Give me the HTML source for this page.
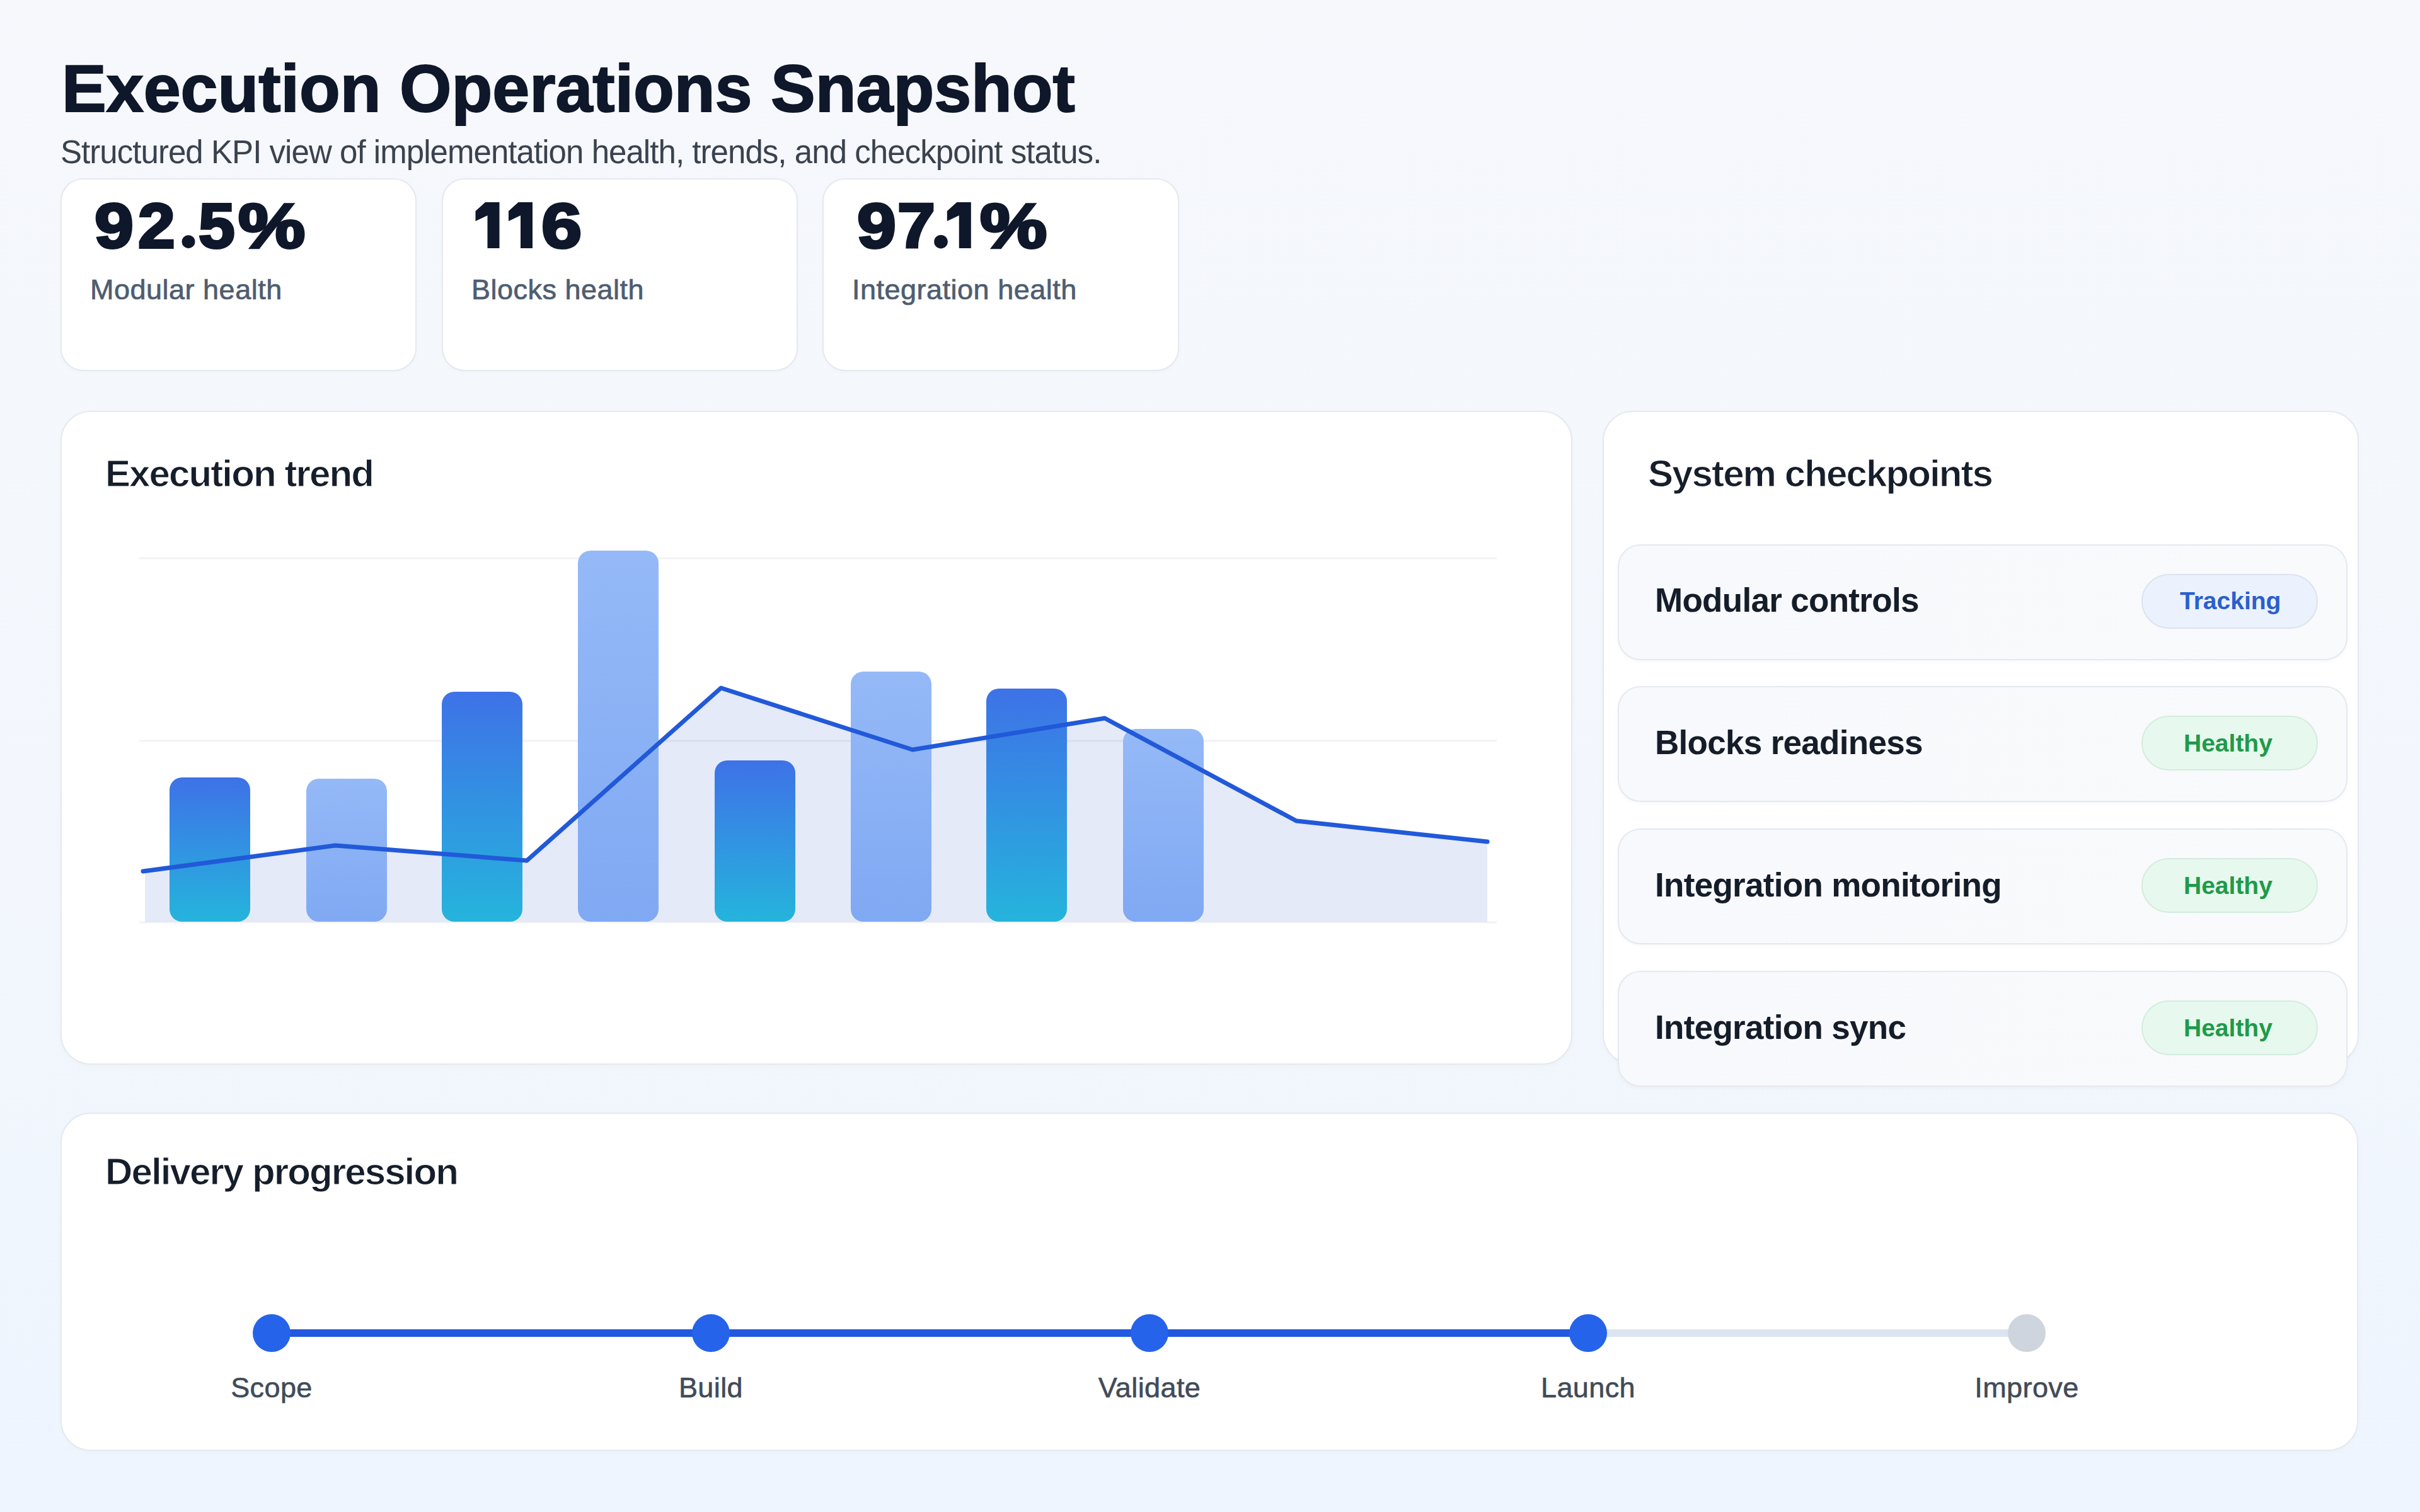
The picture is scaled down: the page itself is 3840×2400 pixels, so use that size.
<!DOCTYPE html>
<html>
<head>
<meta charset="utf-8">
<style>
html,body{margin:0;padding:0;}
body{width:3840px;height:2400px;position:relative;overflow:hidden;background:linear-gradient(180deg,#f6f8fc 0%,#f3f7fd 55%,#eef5fe 100%);font-family:"Liberation Sans",sans-serif;}
.abs{position:absolute;}
.t{position:absolute;white-space:nowrap;line-height:1;}
.card{position:absolute;background:#fff;border:2px solid #e5e9ef;box-sizing:border-box;border-radius:36px;box-shadow:0 2px 8px rgba(15,23,42,0.025);}
.panel{position:absolute;background:#fff;border:2px solid #e5e9ef;box-sizing:border-box;border-radius:48px;box-shadow:0 2px 10px rgba(15,23,42,0.025);}
.item{position:absolute;left:2567px;width:1158px;height:184px;background:linear-gradient(90deg,#f7f9fc,#f9fafc);border:2px solid #e5e9ef;box-sizing:border-box;border-radius:36px;box-shadow:0 2px 6px rgba(15,23,42,0.035);}
.badge{position:absolute;left:3398px;width:280px;height:87px;box-sizing:border-box;border-radius:44px;}
.g{position:absolute;top:308px;line-height:1;font-size:100px;font-weight:700;color:#0f172a;-webkit-text-stroke:4px #0f172a;transform-origin:0 0;white-space:nowrap;}
.kpi-lbl{font-size:45px;color:#4f5d70;-webkit-text-stroke:0.7px #4f5d70;letter-spacing:0.5px;}
.ptitle{font-weight:700;font-size:60px;color:#161e2b;letter-spacing:-1.9px;-webkit-text-stroke:1px #fff;}
.itxt{font-weight:700;font-size:53px;color:#151d2a;letter-spacing:-0.7px;}
.btxt{font-weight:700;font-size:39px;}
.step{font-size:45px;color:#414b58;-webkit-text-stroke:0.6px #414b58;letter-spacing:0.4px;}
.dot{position:absolute;width:60px;height:60px;border-radius:50%;background:#2563eb;top:2086px;}
</style>
</head>
<body>
<div class="t" style="left:98px;top:87px;font-size:106px;font-weight:700;color:#0f172a;-webkit-text-stroke:2px #0f172a;">Execution Operations Snapshot</div>
<div class="t" style="left:96px;top:216px;font-size:51px;color:#3a424e;letter-spacing:-0.95px;">Structured KPI view of implementation health, trends, and checkpoint status.</div>

<div class="card" style="left:96px;top:283px;width:565px;height:306px;"></div>
<div class="card" style="left:701px;top:283px;width:565px;height:306px;"></div>
<div class="card" style="left:1305px;top:283px;width:566px;height:306px;"></div>
<span class="g" style="left:150.3px;transform:scaleX(1.113);">9</span>
<span class="g" style="left:218.9px;transform:scaleX(1.057);">2</span>
<span class="g" style="left:314.8px;transform:scaleX(1.037);">5</span>
<span class="g" style="left:377.8px;transform:scaleX(1.195);">%</span>
<span class="g" style="left:859.2px;transform:scaleX(1.154);">6</span>
<span class="g" style="left:1359.5px;transform:scaleX(1.113);">9</span>
<span class="g" style="left:1423.8px;transform:scaleX(1.078);">7</span>
<span class="g" style="left:1554.8px;transform:scaleX(1.195);">%</span>
<svg class="abs" style="left:0;top:0;" width="2000" height="500" viewBox="0 0 2000 500">
  <polygon points="770.0,321.0 792.5,321.0 792.5,394.0 773.5,394.0 773.5,342.0 754.5,351.0 754.5,335.0" fill="#0f172a"/>
  <polygon points="822.5,321.0 845.0,321.0 845.0,394.0 826.0,394.0 826.0,342.0 807.0,351.0 807.0,335.0" fill="#0f172a"/>
  <polygon points="1518.3,321.0 1540.8,321.0 1540.8,394.0 1521.8,394.0 1521.8,342.0 1502.8,351.0 1502.8,335.0" fill="#0f172a"/>
  <circle cx="299" cy="383.7" r="10.5" fill="#0f172a"/>
  <circle cx="1493" cy="383.7" r="10.8" fill="#0f172a"/>
</svg>
<div class="t kpi-lbl" style="left:143px;top:437px;">Modular health</div>
<div class="t kpi-lbl" style="left:748px;top:437px;">Blocks health</div>
<div class="t kpi-lbl" style="left:1352px;top:437px;">Integration health</div>

<div class="panel" style="left:96px;top:652px;width:2399px;height:1038px;"></div>
<div class="t ptitle" style="left:167px;top:722px;">Execution trend</div>
<svg class="abs" style="left:0;top:0;" width="3840" height="2400" viewBox="0 0 3840 2400">
  <defs>
    <linearGradient id="gd" x1="0" y1="0" x2="0" y2="1">
      <stop offset="0" stop-color="#3e72e7"/>
      <stop offset="1" stop-color="#25b4dc"/>
    </linearGradient>
    <linearGradient id="gl" x1="0" y1="0" x2="0" y2="1">
      <stop offset="0" stop-color="#95b9f7"/>
      <stop offset="1" stop-color="#80a9f3"/>
    </linearGradient>
  </defs>
  <polygon points="230,1383 532,1342 836,1366 1144,1092 1448,1190 1753,1140 2057,1303 2360,1336 2360,1463 230,1463" fill="#e5eaf9"/>
  <line x1="221" y1="886" x2="2375" y2="886" stroke="rgba(100,116,139,0.09)" stroke-width="3"/>
  <line x1="221" y1="1176" x2="2375" y2="1176" stroke="rgba(100,116,139,0.09)" stroke-width="3"/>
  <line x1="221" y1="1464" x2="2375" y2="1464" stroke="rgba(100,116,139,0.09)" stroke-width="3"/>
  <rect x="269" y="1234" width="128" height="229" rx="20" fill="url(#gd)"/>
  <rect x="486" y="1236" width="128" height="227" rx="20" fill="url(#gl)"/>
  <rect x="701" y="1098" width="128" height="365" rx="20" fill="url(#gd)"/>
  <rect x="917" y="874" width="128" height="589" rx="20" fill="url(#gl)"/>
  <rect x="1134" y="1207" width="128" height="256" rx="20" fill="url(#gd)"/>
  <rect x="1350" y="1066" width="128" height="397" rx="20" fill="url(#gl)"/>
  <rect x="1565" y="1093" width="128" height="370" rx="20" fill="url(#gd)"/>
  <rect x="1782" y="1157" width="128" height="306" rx="20" fill="url(#gl)"/>
  <polyline points="227,1383 532,1342 836,1366 1144,1092 1448,1190 1753,1140 2057,1303 2360,1336" fill="none" stroke="#2159d9" stroke-width="7" stroke-linejoin="round" stroke-linecap="round"/>
</svg>

<div class="panel" style="left:2543px;top:652px;width:1200px;height:1038px;"></div>
<div class="t ptitle" style="left:2615px;top:722px;">System checkpoints</div>

<div class="item" style="top:864px;"></div>
<div class="badge" style="top:911px;background:#ebf2fd;border:2px solid #dbe3ef;"></div>
<div class="t itxt" style="left:2626px;top:926px;">Modular controls</div>
<div class="t btxt" style="left:3459px;top:934px;color:#2a5fcf;">Tracking</div>

<div class="item" style="top:1089px;"></div>
<div class="badge" style="top:1136px;background:#e7f9ee;border:2px solid #d3ecdd;"></div>
<div class="t itxt" style="left:2626px;top:1152px;">Blocks readiness</div>
<div class="t btxt" style="left:3465px;top:1160px;color:#1f9a4a;">Healthy</div>

<div class="item" style="top:1315px;"></div>
<div class="badge" style="top:1362px;background:#e7f9ee;border:2px solid #d3ecdd;"></div>
<div class="t itxt" style="left:2626px;top:1378px;">Integration monitoring</div>
<div class="t btxt" style="left:3465px;top:1386px;color:#1f9a4a;">Healthy</div>

<div class="item" style="top:1541px;"></div>
<div class="badge" style="top:1588px;background:#e7f9ee;border:2px solid #d3ecdd;"></div>
<div class="t itxt" style="left:2626px;top:1604px;">Integration sync</div>
<div class="t btxt" style="left:3465px;top:1612px;color:#1f9a4a;">Healthy</div>

<div class="panel" style="left:96px;top:1766px;width:3646px;height:537px;"></div>
<div class="t ptitle" style="left:167px;top:1830px;">Delivery progression</div>
<div class="abs" style="left:431px;top:2110px;width:2089px;height:12px;background:#2359de;"></div>
<div class="abs" style="left:2520px;top:2110px;width:696px;height:12px;background:#dde4f1;"></div>
<div class="dot" style="left:401px;"></div>
<div class="dot" style="left:1098px;"></div>
<div class="dot" style="left:1794px;"></div>
<div class="dot" style="left:2490px;"></div>
<div class="dot" style="left:3186px;background:#cfd5de;"></div>
<div class="t step" style="left:331px;width:200px;text-align:center;top:2180px;">Scope</div>
<div class="t step" style="left:1028px;width:200px;text-align:center;top:2180px;">Build</div>
<div class="t step" style="left:1724px;width:200px;text-align:center;top:2180px;">Validate</div>
<div class="t step" style="left:2420px;width:200px;text-align:center;top:2180px;">Launch</div>
<div class="t step" style="left:3116px;width:200px;text-align:center;top:2180px;">Improve</div>
</body>
</html>
